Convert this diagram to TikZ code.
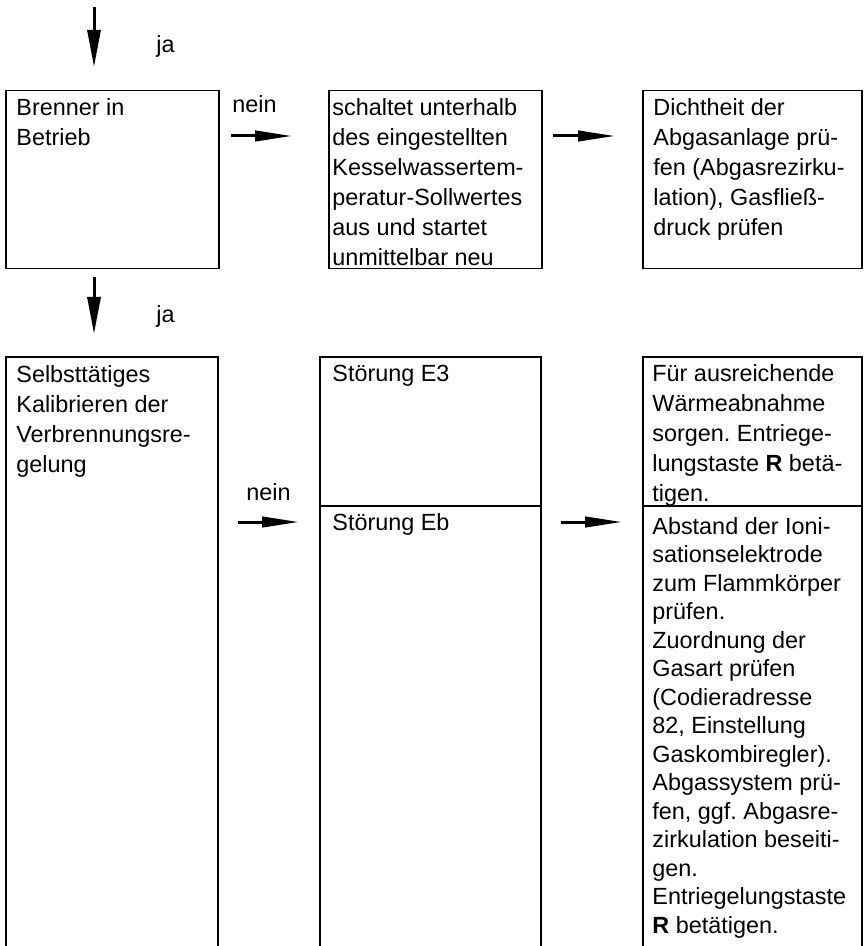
\documentclass[tikz,border=0pt]{standalone}
\usepackage{fontspec}
\setmainfont{Liberation Sans}
\usetikzlibrary{arrows.meta}
\frenchspacing

\begin{document}
\begin{tikzpicture}[
      x=0.5pt, y=-0.5pt,
      box/.style={line width=0.65pt},
      txt/.style={anchor=north west,inner sep=0pt,align=left,font=\fontsize{11.7}{15}\selectfont},
      txtdense/.style={txt,font=\fontsize{11.7}{14.25}\selectfont},
      lbl/.style={anchor=base west,inner sep=0pt,font=\fontsize{11.7}{15}\selectfont},
      arrv/.style={line width=1.5pt,-{Triangle[length=18.5pt,width=6.5pt]}},
      arrh/.style={line width=1.5pt,-{Triangle[length=18.5pt,width=5.2pt]}}
    ]
    \useasboundingbox (0,0) rectangle (865,946);
    % Draw the upper row of boxes.
    \draw[box] (6,90.5) rectangle (219,268.5);
    \draw[box] (329,90.5) rectangle (542,268.5);
    \draw[box] (643,90.5) rectangle (862,268.5);
    % Draw the lower row of boxes (open at the bottom).
    \draw[box] (6,946) -- (6,357) -- (218,357) -- (218,946);
    \draw[box] (320,946) -- (320,357) -- (541,357) -- (541,946);
    \draw[box] (643,946) -- (643,357) -- (862,357) -- (862,946);
    \draw[box] (320,506) -- (541,506);
    \draw[box] (643,506) -- (862,506);
    % Box texts.
    \node[txt] (brenner) at (16,98) {Brenner in\\Betrieb};
    \node[txt] (schaltet) at (332,98) {schaltet unterhalb\\des eingestellten\\Kesselwassertem-\\peratur-Sollwertes\\aus und startet\\unmittelbar neu};
    \node[txt] (dichtheit) at (653,98) {Dichtheit der\\Abgasanlage prü-\\fen (Abgasrezirku-\\lation), Gasfließ-\\druck prüfen};
    \node[txt] (kalibrieren) at (16,365) {Selbsttätiges\\Kalibrieren der\\Verbrennungsre-\\gelung};
    \node[txt] (stoerE3) at (332,365) {Störung E3};
    \node[txt] (stoerEb) at (332,513) {Störung Eb};
    \node[txt] (waerme) at (652,364) {Für ausreichende\\Wärmeabnahme\\sorgen. Entriege-\\lungstaste \textbf{R} betä-\\tigen.};
    \node[txtdense] (abstand) at (652,517) {Abstand der Ioni-\\sationselektrode\\zum Flammkörper\\prüfen.\\Zuordnung der\\Gasart prüfen\\(Codieradresse\\82, Einstellung\\Gaskombiregler).\\Abgassystem prü-\\fen, ggf. Abgasre-\\zirkulation beseiti-\\gen.\\Entriegelungstaste\\\textbf{R} betätigen.};
    % Labels.
    \node[lbl] (ja1) at (156,53) {ja};
    \node[lbl] (ja2) at (156,322) {ja};
    \node[lbl] (nein1) at (232,113) {nein};
    \node[lbl] (nein2) at (246,500) {nein};
    % Arrow end points.
    \coordinate (d1s) at (94,7);    \coordinate (d1e) at (94,67);
    \coordinate (d2s) at (94,277);  \coordinate (d2e) at (94,334);
    \coordinate (h1s) at (231,136); \coordinate (h1e) at (292,136);
    \coordinate (h2s) at (553,136); \coordinate (h2e) at (615,136);
    \coordinate (h3s) at (238,522); \coordinate (h3e) at (299,522);
    \coordinate (h4s) at (561,522); \coordinate (h4e) at (622,522);
    % Draw the arrows.
    \draw[arrv] (d1s) -- (d1e);
    \draw[arrv] (d2s) -- (d2e);
    \draw[arrh] (h1s) -- (h1e);
    \draw[arrh] (h2s) -- (h2e);
    \draw[arrh] (h3s) -- (h3e);
    \draw[arrh] (h4s) -- (h4e);
\end{tikzpicture}
\end{document}
